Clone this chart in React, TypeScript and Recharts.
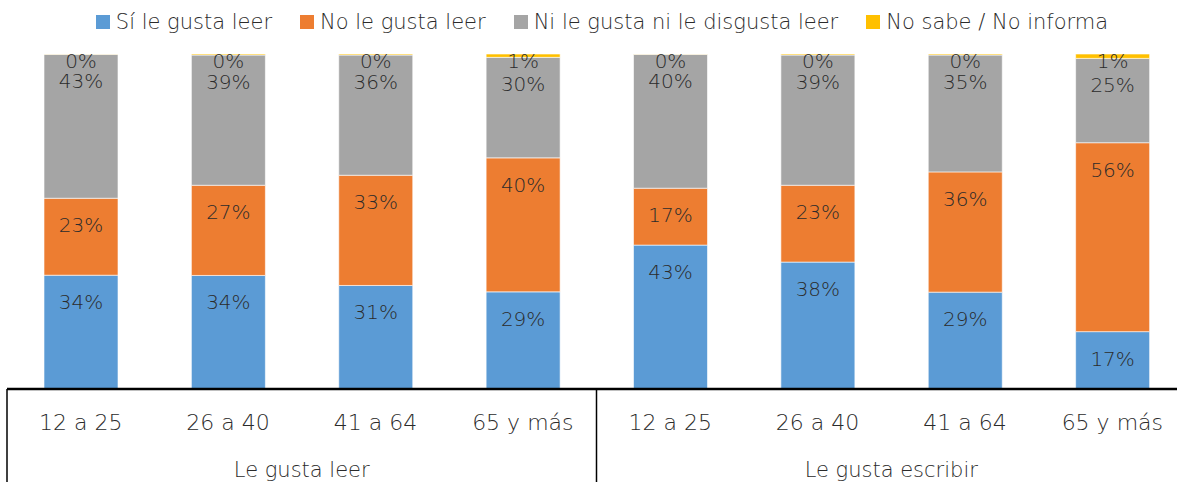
import React from "react";
import { BarChart, Bar, XAxis, YAxis, Legend, LabelList } from "recharts";

const categories = ["12 a 25", "26 a 40", "41 a 64", "65 y más", "12 a 25", "26 a 40", "41 a 64", "65 y más"];
const groups = ["Le gusta leer", "Le gusta escribir"];
const siLeGusta = [34, 34, 31, 29, 43, 38, 29, 17];
const noLeGusta = [23, 27, 33, 40, 17, 23, 36, 56];
const niNi = [43, 39, 36, 30, 40, 39, 35, 25];
const noSabe = [0.1, 0.3, 0.3, 1, 0.1, 0.3, 0.3, 1.3];

const series = [
  { key: "si", name: "Sí le gusta leer", color: "#5B9BD5" },
  { key: "no", name: "No le gusta leer", color: "#ED7D31" },
  { key: "ni", name: "Ni le gusta ni le disgusta leer", color: "#A5A5A5" },
  { key: "ns", name: "No sabe / No informa", color: "#FFC000" },
];

const data = categories.map((c, i) => ({
  cat: c,
  si: siLeGusta[i],
  no: noLeGusta[i],
  ni: niNi[i],
  ns: noSabe[i],
}));

const FONT = "'DejaVu Sans', sans-serif";
const WEIGHT = 200;
const TEXT = "#2b2b2b";
const CHART_W = 1186;
const LEFT = 7;
const BAND = (CHART_W - LEFT) / categories.length;

const makeLabel = (offset: number) => (props: any) => {
  const { x, y, width, value } = props;
  return (
    <text
      x={x + width / 2}
      y={y + offset}
      textAnchor="middle"
      dominantBaseline="central"
      fill={TEXT}
      fontFamily={FONT}
      fontWeight={WEIGHT}
      fontSize={20}
    >
      {Math.round(value)}%
    </text>
  );
};

const CategoryTick = (props: any) => {
  const { x, y, payload } = props;
  const i = payload.index;
  const h = 120;
  return (
    <g>
      <text x={x} y={y + 33} textAnchor="middle" dominantBaseline="central" fill={TEXT} fontFamily={FONT} fontWeight={WEIGHT} fontSize={22}>
        {payload.value}
      </text>
      {i % 4 === 0 && <line x1={x - BAND / 2} x2={x - BAND / 2} y1={y} y2={y + h} stroke="#000" strokeWidth={1.5} />}
      {i === categories.length - 1 && <line x1={x + BAND / 2} x2={x + BAND / 2} y1={y} y2={y + h} stroke="#000" strokeWidth={1.5} />}
      {i % 4 === 1 && (
        <text x={x + BAND / 2} y={y + 81} textAnchor="middle" dominantBaseline="central" fill={TEXT} fontFamily={FONT} fontWeight={WEIGHT} fontSize={21}>
          {groups[Math.floor(i / 4)]}
        </text>
      )}
    </g>
  );
};

const LegendContent = () => (
  <div style={{ height: 54, display: "flex", justifyContent: "center", alignItems: "flex-start", gap: 28, paddingTop: 9, boxSizing: "border-box", fontFamily: FONT, fontWeight: WEIGHT, fontSize: 21, color: TEXT, marginLeft: 25 }}>
    {series.map((s) => (
      <div key={s.key} style={{ display: "flex", alignItems: "center" }}>
        <span style={{ width: 14, height: 14, background: s.color, marginRight: 6, display: "inline-block" }} />
        <span style={{ lineHeight: "26px" }}>{s.name}</span>
      </div>
    ))}
  </div>
);

export default function App() {
  return (
    <div style={{ position: "fixed", top: 0, left: 0, width: 1177, height: 482, overflow: "hidden", background: "#fff" }}>
      <BarChart
        width={CHART_W}
        height={500}
        data={data}
        stackOffset="expand"
        barSize={74}
        margin={{ top: 0, right: 0, bottom: 0, left: LEFT }}
      >
        <Legend verticalAlign="top" content={<LegendContent />} wrapperStyle={{ top: 0, left: 0 }} />
        <YAxis hide domain={[0, 1]} />
        <XAxis
          dataKey="cat"
          height={111}
          interval={0}
          tickLine={false}
          tickSize={0}
          tickMargin={0}
          axisLine={{ stroke: "#000", strokeWidth: 2.5 }}
          tick={<CategoryTick />}
        />
        {series.map((s, k) => (
          <Bar key={s.key} dataKey={s.key} name={s.name} stackId="a" fill={s.color} stroke="#fff" strokeWidth={0.6} isAnimationActive={false}>
            <LabelList dataKey={s.key} content={makeLabel(k === 3 ? 7 : 27)} />
          </Bar>
        ))}
      </BarChart>
    </div>
  );
}
